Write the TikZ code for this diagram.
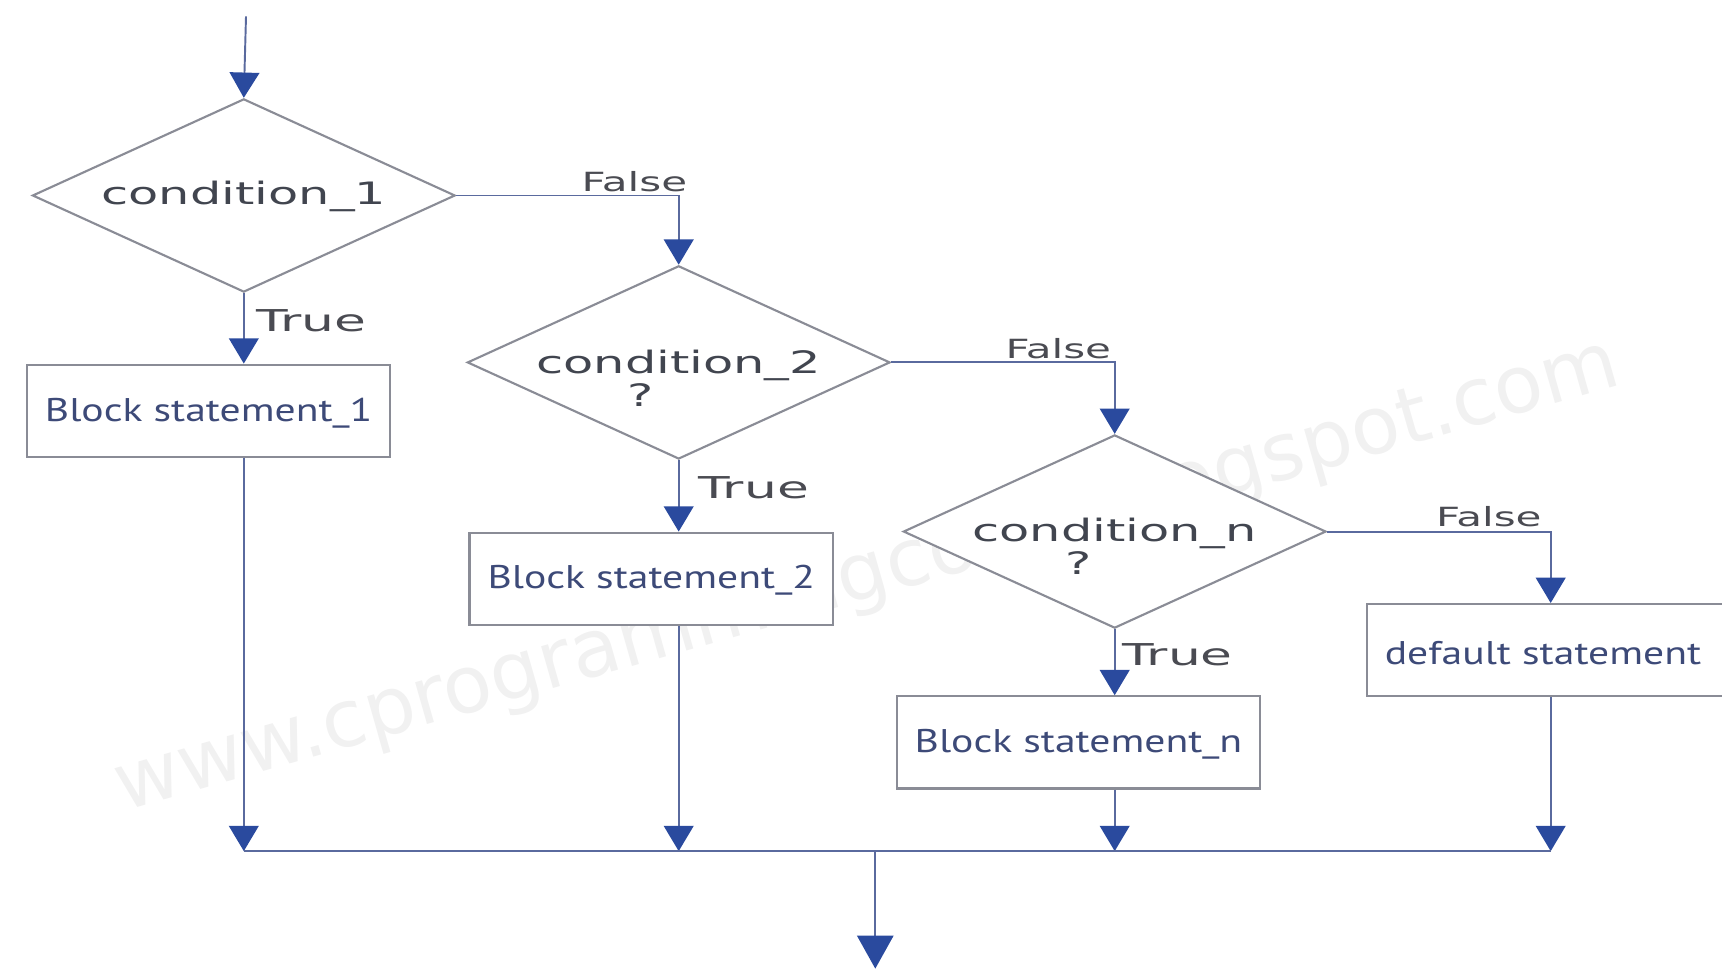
\documentclass[tikz,border=0pt]{standalone}
\usepackage{fontspec}
\usepackage{graphicx}
\setmainfont{DejaVu Sans}
\newfontfamily\blockfont{PT Sans}
\newfontfamily\condfont{DejaVu Sans}
\usetikzlibrary{shapes.geometric,arrows.meta}
\definecolor{linec}{HTML}{5A6A9E}
\definecolor{arrowc}{HTML}{2A4A9E}
\definecolor{borderc}{HTML}{8A8C96}
\definecolor{condc}{HTML}{41454F}
\definecolor{blockc}{HTML}{3D4A78}
\definecolor{labelc}{HTML}{4A4B52}
\definecolor{wmc}{HTML}{F1F1F1}
\newcommand\condtext[1]{\scalebox{1.6}[1]{\condfont\fontsize{16}{16}\selectfont #1}}
\newcommand\blocktext[1]{\scalebox{1.27}[1]{\blockfont\fontsize{17}{17}\selectfont #1}}
\begin{document}
\begin{tikzpicture}[x=0.02cm,y=-0.02cm,
  decision/.style={diamond,draw=borderc,line width=1.1pt,fill=white,inner sep=0pt,minimum width=7.7cm,minimum height=3.52cm},
  block/.style={rectangle,draw=borderc,line width=1.1pt,fill=white,inner sep=0pt,minimum width=6.62cm,minimum height=1.68cm},
  ctext/.style={inner sep=0pt,text=condc,anchor=base},
  btext/.style={inner sep=0pt,text=blockc},
  lbl/.style={inner sep=0pt,text=labelc},
  conn/.style={draw=linec,line width=1pt},
  arr/.style={conn,-{Triangle[width=0.54cm,length=0.46cm,color=arrowc]}},
  bigarr/.style={conn,-{Triangle[width=0.66cm,length=0.6cm,color=arrowc]}}
]
\useasboundingbox (0,0) rectangle (1568,883);
% watermark
\node[inner sep=0pt,text=wmc,rotate=15.9] (wm) at (790,525)
  {\resizebox{28.4cm}{1.1cm}{\condfont www.cprogrammingcode.blogspot.com}};

% shapes
\node[decision] (d1) at (222,178) {};
\node[decision] (d2) at (618,330) {};
\node[decision] (dn) at (1015,484) {};
\node[block] (b1) at (190,374) {};
\node[block] (b2) at (593,527) {};
\node[block] (bn) at (982,676) {};
\node[block,minimum width=6.7cm] (def) at (1412,592) {};

% texts
\node[ctext] (d1t) at (222,186) {\condtext{condition\_1}};
\node[ctext] (d2t) at (618,340) {\condtext{condition\_2}};
\node[ctext] (d2q) at (583,370) {\condtext{?}};
\node[ctext] (dnt) at (1015,493) {\condtext{condition\_n}};
\node[ctext] (dnq) at (982,523) {\condtext{?}};
\node[btext] (b1t) at (190,376) {\blocktext{Block statement\_1}};
\node[btext] (b2t) at (593,528) {\blocktext{Block statement\_2}};
\node[btext] (bnt) at (982,678) {\blocktext{Block statement\_n}};
\node[btext] (deft) at (1405,595) {\blocktext{default statement}};

% coordinates
\coordinate (start) at (224,15);
\coordinate (jl) at (222,775);
\coordinate (jr) at (1412,775);
\coordinate (jo) at (797,775);
\coordinate (out) at (797,882);

% connectors
\draw[arr] (start) -- (d1.north);
\draw[arr] (d1.east) -| (d2.north);
\draw[arr] (d2.east) -| (dn.north);
\draw[arr] (dn.east) -| (def.north);
\draw[arr] (d1.south) -- (d1.south |- b1.north);
\draw[arr] (d2.south) -- (d2.south |- b2.north);
\draw[arr] (dn.south) -- (dn.south |- bn.north);
\draw[arr] (d1.south |- b1.south) -- (jl);
\draw[arr] (d2.south |- b2.south) -- (d2.south |- jl);
\draw[arr] (dn.south |- bn.south) -- (dn.south |- jl);
\draw[arr] (def.south) -- (jr);
\draw[conn] (jl) -- (jr);
\draw[bigarr] (jo) -- (out);

% labels
\node[lbl,anchor=south east] (f1) at (626,175) {\scalebox{1.59}[1]{\fontsize{13.7}{14}\selectfont False}};
\node[lbl,anchor=south east] (f2) at (1012,327) {\scalebox{1.59}[1]{\fontsize{13.7}{14}\selectfont False}};
\node[lbl,anchor=south east] (f3) at (1404,480) {\scalebox{1.59}[1]{\fontsize{13.7}{14}\selectfont False}};
\node[lbl,anchor=west] (t1) at (233,292) {\scalebox{1.72}[1]{\fontsize{15.6}{16}\selectfont True}};
\node[lbl,anchor=west] (t2) at (636,444) {\scalebox{1.72}[1]{\fontsize{15.6}{16}\selectfont True}};
\node[lbl,anchor=west] (t3) at (1022,596) {\scalebox{1.72}[1]{\fontsize{15.6}{16}\selectfont True}};
\end{tikzpicture}
\end{document}
